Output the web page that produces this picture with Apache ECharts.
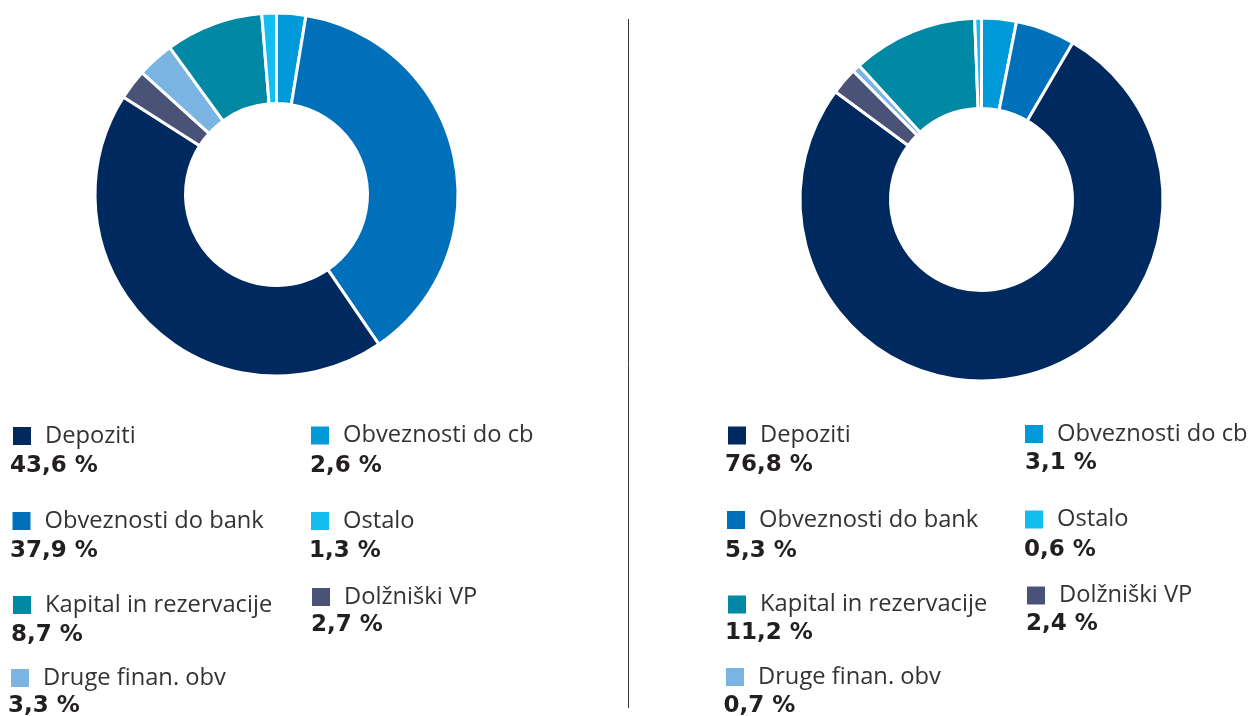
<!DOCTYPE html>
<html>
<head>
<meta charset="utf-8">
<script src="https://cdn.jsdelivr.net/npm/echarts@6/dist/echarts.min.js"></script>
<style>
html,body{margin:0;padding:0;background:#fff;}
#chart{width:1255px;height:716px;}
</style>
</head>
<body>
<div id="chart"></div>
<script>
// ---- data ----
const categories = ['Obveznosti do cb', 'Obveznosti do bank', 'Depoziti', 'Dolžniški VP', 'Druge finan. obv', 'Kapital in rezervacije', 'Ostalo'];
const leftValues = [2.6, 37.9, 43.6, 2.7, 3.3, 8.7, 1.3];
const rightValues = [3.1, 5.3, 76.8, 2.4, 0.7, 11.2, 0.6];
const colors = ['#009ad9', '#0070ba', '#002a5f', '#4b5278', '#79b4e2', '#0088a4', '#14bdf0'];

// ---- layout (per category, same order) ----
// [iconLeft, iconTop, valueLeft, valueCenterY]
const leftLayout = [
  [311, 423.5, 310, 464.5],
  [12.5, 509, 10, 550],
  [13, 424, 10, 465],
  [312, 585, 311, 624],
  [11, 666, 8, 705],
  [13, 593, 11, 633.5],
  [311, 509, 309, 549.7]
];
const rightLayout = [
  [1025, 422, 1025, 462],
  [727, 508, 725, 549.3],
  [728, 423.5, 725, 463.5],
  [1027, 583.5, 1026, 622.5],
  [726, 665, 723.5, 704.5],
  [728, 592.5, 725, 632],
  [1025, 507.5, 1024, 549]
];

const NAME_FONT = 'Open Sans';
const VALUE_FONT = 'DejaVu Sans';
const fmt = v => v.toFixed(1).replace('.', ',') + ' %';

const chart = echarts.init(document.getElementById('chart'), null, {renderer: 'canvas'});

function pieSeries(values, center) {
  return {
    type: 'pie',
    center: center,
    radius: [91, 181.5],
    startAngle: 90,
    clockwise: true,
    avoidLabelOverlap: false,
    label: {show: false},
    labelLine: {show: false},
    emphasis: {disabled: true},
    itemStyle: {borderColor: '#ffffff', borderWidth: 3},
    data: categories.map((c, i) => ({name: c, value: values[i], itemStyle: {color: colors[i]}}))
  };
}

const legends = [];
const graphics = [];
function addLegend(layout, values) {
  categories.forEach((c, i) => {
    const p = layout[i];
    legends.push({
      left: p[0], top: p[1], padding: 0,
      icon: 'rect', itemWidth: 18, itemHeight: 18,
      selectedMode: false,
      itemStyle: {borderWidth: 0},
      data: [c],
      textStyle: {fontFamily: NAME_FONT, fontSize: 23.7, fontWeight: 'normal', color: '#333333', lineHeight: 18, padding: [0, 0, 0, 9]}
    });
    graphics.push({
      type: 'text', left: p[2], top: p[3] - 10,
      style: {text: fmt(values[i]), font: 'bold 23px "' + VALUE_FONT + '"', fill: '#231f20'}
    });
  });
}
addLegend(leftLayout, leftValues);
addLegend(rightLayout, rightValues);

graphics.push({
  type: 'line',
  shape: {x1: 628.5, y1: 19, x2: 628.5, y2: 708},
  style: {stroke: '#3a3a3a', lineWidth: 1}
});

chart.setOption({
  backgroundColor: '#ffffff',
  animation: false,
  color: colors,
  legend: legends,
  graphic: graphics,
  series: [
    pieSeries(leftValues, [276.5, 194.5]),
    pieSeries(rightValues, [981.5, 199.5])
  ]
});
</script>
</body>
</html>
